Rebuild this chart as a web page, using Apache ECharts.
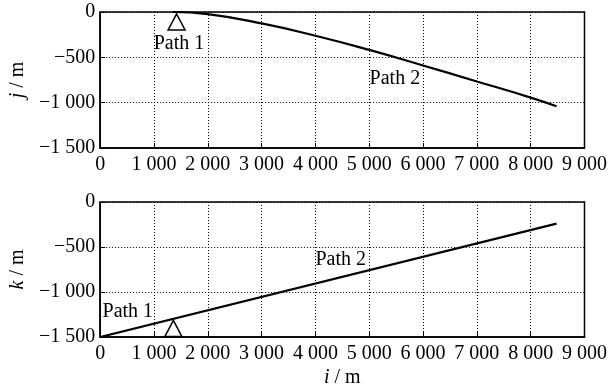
<!DOCTYPE html>
<html>
<head>
<meta charset="utf-8">
<script src="https://cdn.jsdelivr.net/npm/echarts@6/dist/echarts.min.js"></script>
<style>
html,body{margin:0;padding:0;background:#fff;}
#c{width:610px;height:391px;}
</style>
</head>
<body>
<div id="c"></div>
<script>
// Path curve in the i-j plane (upper panel)
const topI = [1350, 2000, 3000, 4000, 5000, 6000, 7000, 8000, 8480];
const topJ = [0, -24, -126, -262, -418, -590, -766, -944, -1040];
// Path line in the i-k plane (lower panel)
const botI = [0, 8480];
const botK = [-1500, -240];
// Triangle markers
const markTop = [1420, -110];
const markBot = [1360, -1405];
// Text annotations [i, value, text]
const notesTop = [[1465, -346, 'Path 1'], [5476, -736, 'Path 2']];
const notesBot = [[513, -1219, 'Path 1'], [4469, -644, 'Path 2']];
// Axis ticks
const iTicks = {min: 0, max: 9000, interval: 1000};
const vTicks = {min: -1500, max: 0, interval: 500};

const FONT = '"Liberation Serif", "Times New Roman", serif';
function fmt(v) {
  const s = Math.abs(v).toString().replace(/\B(?=(\d{3})+(?!\d))/g, ' ');
  return (v < 0 ? '\u2212' : '') + s;
}
function zip(xs, ys) { return xs.map((x, i) => [x, ys[i]]); }

function xAxis(idx, name) {
  return {
    type: 'value', gridIndex: idx, min: iTicks.min, max: iTicks.max, interval: iTicks.interval,
    axisLine: {show: true, onZero: false, lineStyle: {color: '#000', width: 1.5}},
    axisTick: {show: true, inside: true, length: 5, lineStyle: {color: '#000'}},
    axisLabel: {formatter: fmt, color: '#000', fontFamily: FONT, fontSize: 20, margin: 7},
    splitLine: {show: true, lineStyle: {color: '#000', type: [1, 2], width: 1}},
    name: name || '', nameLocation: 'middle', nameGap: 31,
    nameTextStyle: {color: '#000', fontFamily: FONT, fontSize: 20,
      rich: {it: {fontStyle: 'italic', fontFamily: FONT, fontSize: 20, color: '#000'}}}
  };
}
function yAxis(idx, name) {
  return {
    type: 'value', gridIndex: idx, min: vTicks.min, max: vTicks.max, interval: vTicks.interval,
    axisLine: {show: true, onZero: false, lineStyle: {color: '#000', width: 1.5}},
    axisTick: {show: true, inside: true, length: 5, lineStyle: {color: '#000'}},
    axisLabel: {formatter: fmt, color: '#000', fontFamily: FONT, fontSize: 20, margin: 5},
    splitLine: {show: true, lineStyle: {color: '#000', type: [1, 2], width: 1}},
    name: name, nameLocation: 'middle', nameGap: 66, nameRotate: 90,
    nameTextStyle: {color: '#000', fontFamily: FONT, fontSize: 20,
      rich: {it: {fontStyle: 'italic', fontFamily: FONT, fontSize: 20, color: '#000'}}}
  };
}
function notes(idx, arr) {
  return {
    type: 'scatter', xAxisIndex: idx, yAxisIndex: idx, symbolSize: 0, silent: true, z: 5,
    itemStyle: {opacity: 1},
    data: arr.map(a => ({value: [a[0], a[1]], label: {show: true, formatter: a[2]}})),
    label: {show: true, position: 'inside', color: '#000', fontFamily: FONT, fontSize: 20}
  };
}
function marker(idx, p) {
  return {
    type: 'scatter', xAxisIndex: idx, yAxisIndex: idx, symbol: 'triangle', symbolSize: [17, 16], z: 4,
    itemStyle: {color: '#fff', borderColor: '#000', borderWidth: 1.5, opacity: 1}, data: [p]
  };
}

const chart = echarts.init(document.getElementById('c'), null, {renderer: 'canvas'});
chart.setOption({
  animation: false,
  backgroundColor: '#fff',
  grid: [
    {left: 98, right: 21, top: 12, height: 136, show: true, borderColor: '#000', borderWidth: 1.5},
    {left: 98, right: 21, top: 202, height: 135, show: true, borderColor: '#000', borderWidth: 1.5}
  ],
  xAxis: [xAxis(0), xAxis(1, '{it|i} / m')],
  yAxis: [yAxis(0, '{it|j} / m'), yAxis(1, '{it|k} / m')],
  series: [
    {type: 'line', xAxisIndex: 0, yAxisIndex: 0, data: zip(topI, topJ), smooth: 0.5, showSymbol: false,
     lineStyle: {color: '#000', width: 2.2}, z: 3},
    {type: 'line', xAxisIndex: 1, yAxisIndex: 1, data: zip(botI, botK), showSymbol: false,
     lineStyle: {color: '#000', width: 2.2}, z: 3},
    marker(0, markTop), marker(1, markBot),
    notes(0, notesTop), notes(1, notesBot)
  ]
});
</script>
</body>
</html>
